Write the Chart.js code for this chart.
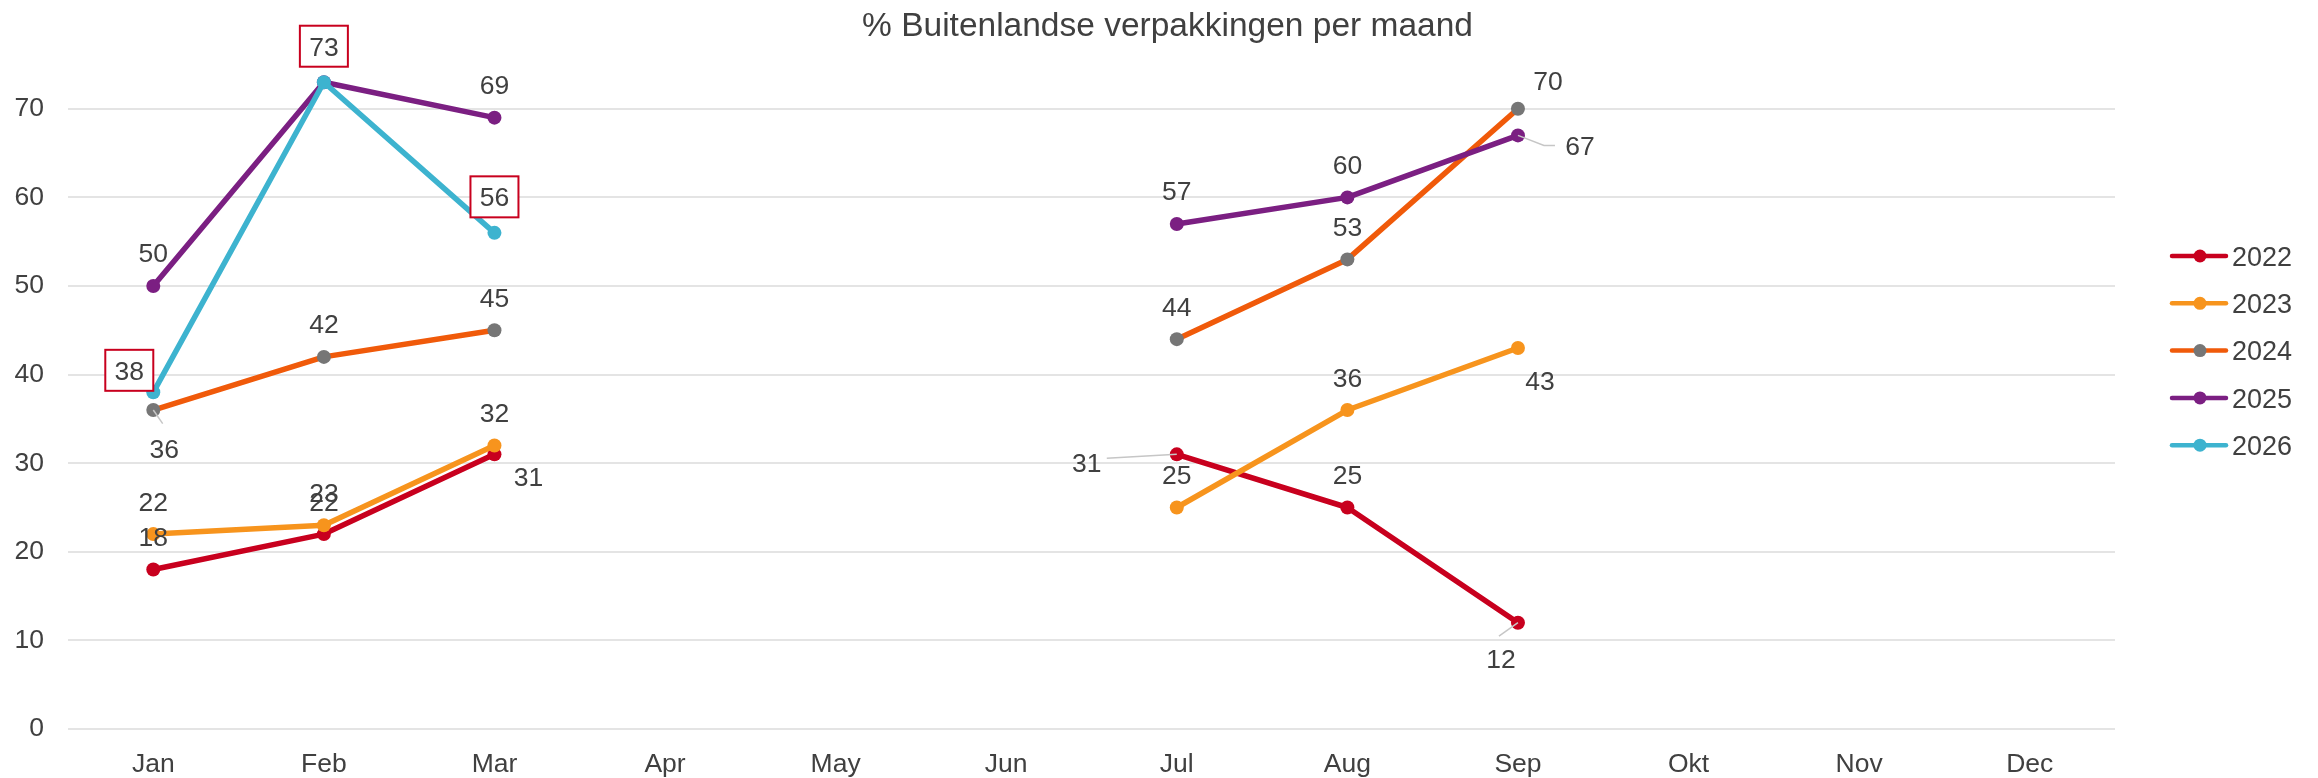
<!DOCTYPE html>
<html>
<head>
<meta charset="utf-8">
<script src="https://cdn.jsdelivr.net/npm/chart.js@4"></script>
<style>
  html, body { margin: 0; padding: 0; background: #fff; }
  #chart { display: block; }
</style>
</head>
<body>
<canvas id="chart" width="2318" height="778"></canvas>
<script>
const months = ['Jan', 'Feb', 'Mar', 'Apr', 'May', 'Jun', 'Jul', 'Aug', 'Sep', 'Okt', 'Nov', 'Dec'];
const years = ['2022', '2023', '2024', '2025', '2026'];

const values2022 = [18, 22, 31, null, null, null, 31, 25, 12, null, null, null];
const values2023 = [22, 23, 32, null, null, null, 25, 36, 43, null, null, null];
const values2024 = [36, 42, 45, null, null, null, 44, 53, 70, null, null, null];
const values2025 = [50, 73, 69, null, null, null, 57, 60, 67, null, null, null];
const values2026 = [38, 73, 56, null, null, null, null, null, null, null, null, null];

const yTicks = [0, 10, 20, 30, 40, 50, 60, 70];
const chartTitle = '% Buitenlandse verpakkingen per maand';

const seriesValues = [values2022, values2023, values2024, values2025, values2026];
const lineColors = ['#C8001E', '#F7941D', '#F05A0A', '#7B1F82', '#3DB3CF'];
const markerColors = ['#C8001E', '#F7941D', '#767676', '#7B1F82', '#3DB3CF'];

const textColor = '#404040';
const fontFamily = "'Liberation Sans', Arial, sans-serif";

// label placement per series (index -> [dx, dy] of the text centre from the point)
const defaultOffset = [0, -33];
const labelOffsets = {
  '2022': { 2: [34, 22], 6: [-90, 8], 8: [-17, 36] },
  '2023': { 8: [22, 32] },
  '2024': { 0: [11, 38], 8: [30, -28] },
  '2025': { 1: null, 8: [62, 10] },
  '2026': { 0: [-24, -22], 1: [0, -36], 2: [0, -36] },
};
// leader lines: points relative to the label centre, drawn from the data point
const leaderLines = {
  '2022': { 6: [[20, -4]], 8: [[-2, -22.5]] },
  '2024': { 0: [[-1.6, -24.4]] },
  '2025': { 8: [[-36, 0], [-25, 0]] },
};
const boxedSeries = ['2026'];

const labelPlugin = {
  id: 'pointLabels',
  afterDatasetsDraw(chart) {
    const ctx = chart.ctx;
    const size = 26.5;
    const capHalf = size * 0.716 / 2;
    ctx.save();
    ctx.font = size + 'px ' + fontFamily;
    ctx.textAlign = 'center';
    ctx.textBaseline = 'alphabetic';

    chart.data.datasets.forEach((dataset, i) => {
      const meta = chart.getDatasetMeta(i);
      const year = dataset.label;
      const offsets = labelOffsets[year] || {};
      const leaders = leaderLines[year] || {};

      dataset.data.forEach((value, j) => {
        if (value === null) return;
        let offset = defaultOffset;
        if (j in offsets) offset = offsets[j];
        if (!offset) return;

        const point = meta.data[j];
        const lx = point.x + offset[0];
        const ly = point.y + offset[1];
        const text = String(value);

        if (leaders[j]) {
          ctx.strokeStyle = '#c6c6c6';
          ctx.lineWidth = 1.5;
          ctx.beginPath();
          ctx.moveTo(point.x, point.y);
          leaders[j].forEach(p => ctx.lineTo(lx + p[0], ly + p[1]));
          ctx.stroke();
        }

        if (boxedSeries.includes(year)) {
          ctx.fillStyle = '#fff';
          ctx.fillRect(lx - 24, ly - 20.5, 48, 41);
          ctx.strokeStyle = '#C8001E';
          ctx.lineWidth = 2;
          ctx.strokeRect(lx - 24, ly - 20.5, 48, 41);
        }

        ctx.fillStyle = textColor;
        ctx.fillText(text, lx, ly + capHalf);
      });
    });
    ctx.restore();
  },
};

const legendPlugin = {
  id: 'sideLegend',
  afterDraw(chart) {
    const ctx = chart.ctx;
    const size = 27;
    ctx.save();
    ctx.font = size + 'px ' + fontFamily;
    ctx.textAlign = 'left';
    ctx.textBaseline = 'alphabetic';
    chart.data.datasets.forEach((dataset, i) => {
      const y = 256 + i * 47.3;
      ctx.strokeStyle = dataset.borderColor;
      ctx.lineWidth = 4.5;
      ctx.lineCap = 'round';
      ctx.beginPath();
      ctx.moveTo(2172, y);
      ctx.lineTo(2226, y);
      ctx.stroke();
      ctx.fillStyle = dataset.pointBackgroundColor;
      ctx.beginPath();
      ctx.arc(2200, y, 6.5, 0, Math.PI * 2);
      ctx.fill();
      ctx.fillStyle = textColor;
      ctx.fillText(dataset.label, 2232, y + size * 0.716 / 2);
    });
    ctx.restore();
  },
};

const titlePlugin = {
  id: 'topTitle',
  afterDraw(chart) {
    const ctx = chart.ctx;
    ctx.save();
    ctx.font = '33.5px ' + fontFamily;
    ctx.fillStyle = textColor;
    ctx.textAlign = 'center';
    ctx.textBaseline = 'alphabetic';
    ctx.fillText(chartTitle, 1167.5, 35.5);
    ctx.restore();
  },
};

const chart = new Chart(document.getElementById('chart').getContext('2d'), {
  type: 'line',
  data: {
    labels: months,
    datasets: years.map((year, i) => ({
      label: year,
      data: seriesValues[i],
      borderColor: lineColors[i],
      backgroundColor: markerColors[i],
      pointBackgroundColor: markerColors[i],
      pointBorderColor: markerColors[i],
      pointBorderWidth: 0,
      pointRadius: 7,
      borderWidth: 5.5,
      borderJoinStyle: 'round',
      borderCapStyle: 'round',
      tension: 0,
      spanGaps: false,
      order: years.length - i,
    })),
  },
  options: {
    responsive: false,
    animation: false,
    devicePixelRatio: 1,
    layout: { padding: { top: 64.5, right: 203, bottom: 0, left: 0 } },
    plugins: {
      legend: { display: false },
      title: { display: false },
      tooltip: { enabled: false },
    },
    scales: {
      x: {
        offset: true,
        grid: { display: false, drawTicks: false },
        border: { display: false },
        ticks: {
          color: textColor,
          font: { family: fontFamily, size: 26.5 },
          padding: 20,
          maxRotation: 0,
          autoSkip: false,
        },
        afterFit(scale) { scale.height = 49; },
      },
      y: {
        min: 0,
        max: 75,
        grid: { color: '#e4e4e4', lineWidth: 2, drawTicks: false },
        border: { display: false },
        ticks: {
          color: textColor,
          font: { family: fontFamily, size: 26.5 },
          padding: 24,
        },
        afterBuildTicks(scale) {
          scale.ticks = yTicks.map(value => ({ value }));
        },
        afterFit(scale) { scale.width = 68; },
      },
    },
  },
  plugins: [labelPlugin, legendPlugin, titlePlugin],
});
</script>
</body>
</html>
